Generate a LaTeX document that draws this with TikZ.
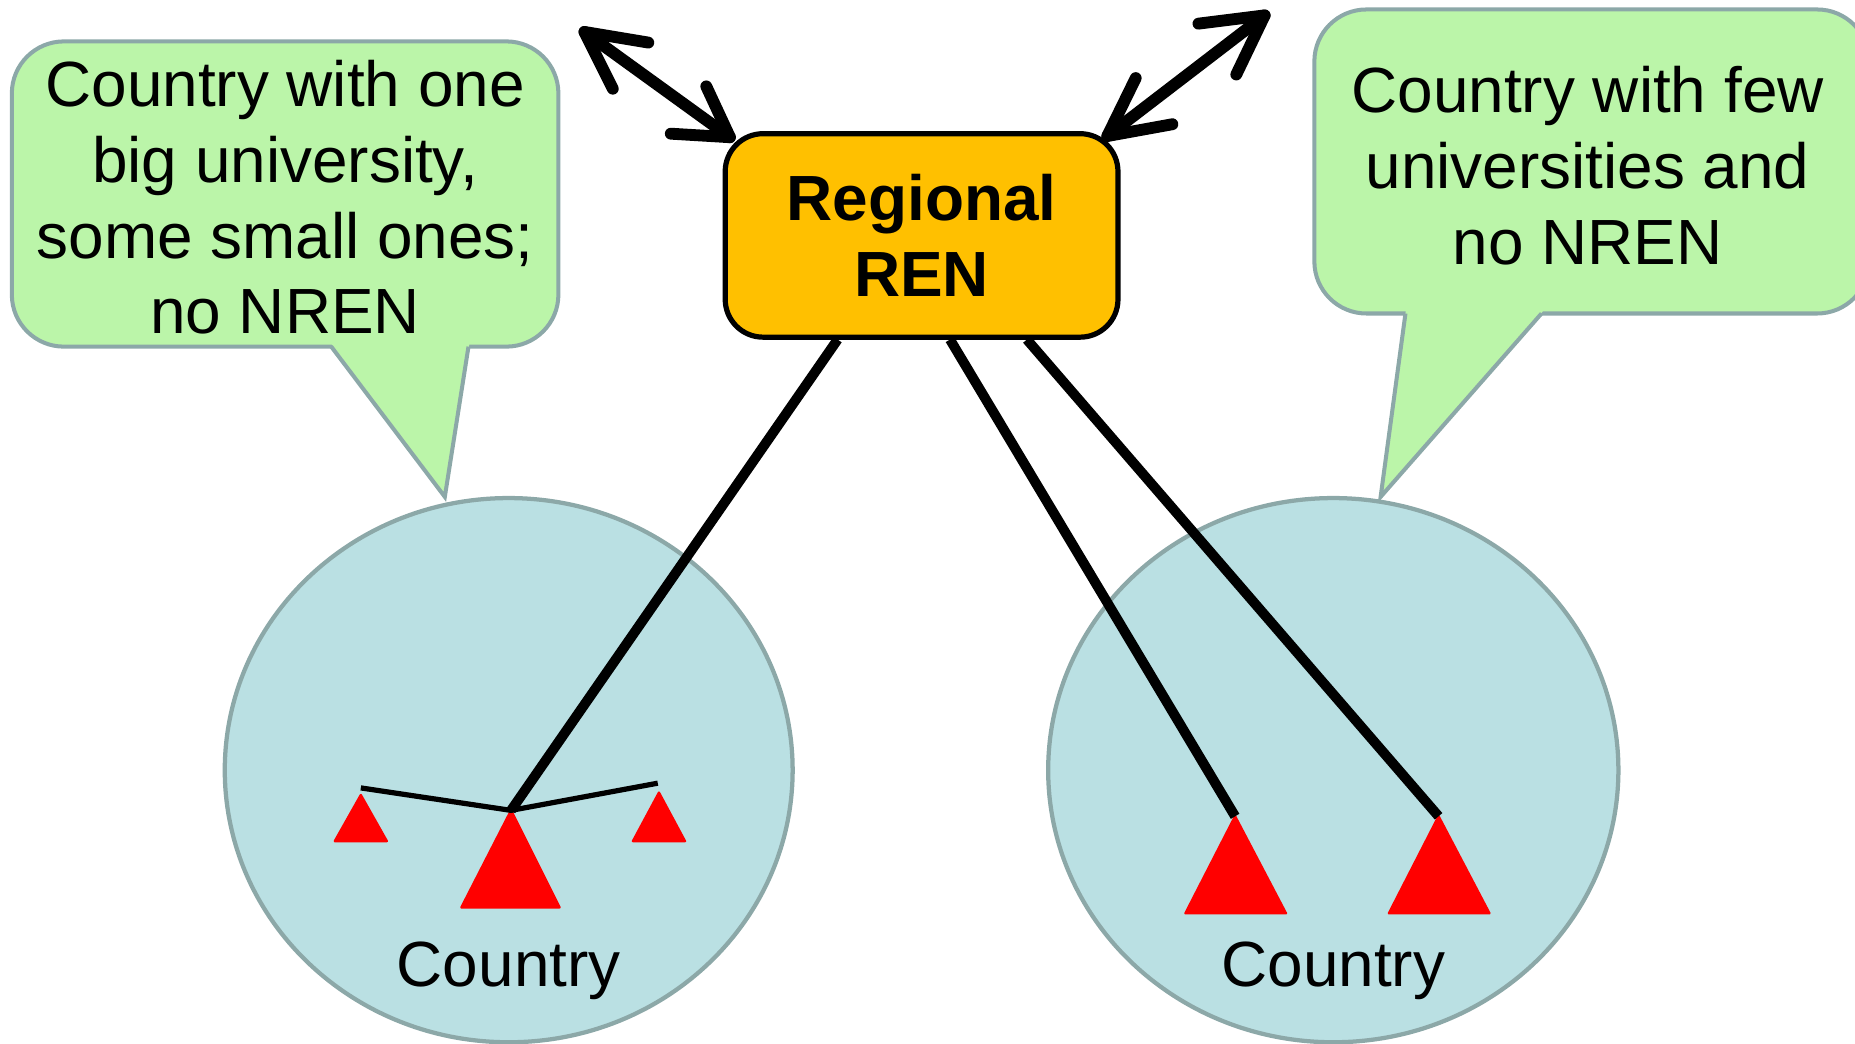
\documentclass[tikz,border=0pt]{standalone}
\usepackage{fontspec}
\setmainfont{Liberation Sans}
\usetikzlibrary{calc}
\definecolor{callgreen}{HTML}{BBF5A9}
\definecolor{countryblue}{HTML}{BAE0E3}
\definecolor{grayedge}{HTML}{8CA8A8}
\definecolor{renorange}{HTML}{FFC000}
\begin{document}
\begin{tikzpicture}[x=0.5pt,y=-0.5pt,
  callout/.style={fill=callgreen,draw=grayedge,line width=1.7pt,rounded corners=22pt},
  pointer/.style={draw=grayedge,line width=1.7pt,line join=miter},
  countrysh/.style={fill=countryblue,draw=grayedge,line width=1.8pt},
  lbl/.style={font=\fontsize{27}{32}\selectfont,align=center},
  link/.style={line width=4.2pt},
  thinlink/.style={line width=2.2pt},
  uni/.style={fill=red,draw=red,line width=1pt,line join=round},
  dbl/.style={line width=5pt,line cap=round,line join=round}
]
\useasboundingbox (0,0) rectangle (1568,882);
% country ellipses
\draw[countrysh] (430,651) ellipse [x radius=240,y radius=230];
\draw[countrysh] (1127,651) ellipse [x radius=241,y radius=230];
\node[lbl] (c1) at (430,821) {Country};
\node[lbl] (c2) at (1127,821) {Country};
% left callout
\draw[callout] (10,35) rectangle (472,293);
\fill[callgreen] (279,289) -- (376,420) -- (397,289) -- cycle;
\draw[pointer] (280,293) -- (376,420) -- (396,293);
\node[lbl] (t1) at (241,167) {Country with one\\big university,\\some small ones;\\no NREN};
% right callout
\draw[callout] (1111,8) rectangle (1580,265);
\fill[callgreen] (1188.5,261) -- (1167,420) -- (1306,261) -- cycle;
\draw[pointer] (1188,265) -- (1167,420) -- (1303,265);
\node[lbl] (t2) at (1342,140) {Country with few\\universities and\\no NREN};
% regional REN
\node[draw=black,fill=renorange,line width=2.2pt,rounded corners=16pt,minimum width=166pt,minimum height=86pt,
  font=\fontsize{27}{32}\selectfont\bfseries,align=center] (ren) at (779,199) {Regional\\REN};
% universities
\coordinate (a1) at (432,685);
\coordinate (s1) at (305,672);
\coordinate (s2) at (557,670);
\coordinate (a2) at (1044,690);
\coordinate (a3) at (1216,690);
\draw[uni] (a1) -- (390,767) -- (473,767) -- cycle;
\draw[uni] (s1) -- (283,711) -- (327,711) -- cycle;
\draw[uni] (s2) -- (535,711) -- (579,711) -- cycle;
\draw[uni] (a2) -- (1002,772) -- (1087,772) -- cycle;
\draw[uni] (a3) -- (1174,772) -- (1259,772) -- cycle;
% links
\coordinate (r1) at (708,287);
\coordinate (r2) at (803,287);
\coordinate (r3) at (868,287);
\draw[link] (r1) -- (a1);
\draw[link] (r2) -- (a2);
\draw[link] (r3) -- (a3);
\coordinate (e1) at (305,666);
\coordinate (e2) at (556,662);
\draw[thinlink] (e1) -- (a1) -- (e2);
% double arrows
\coordinate (ul) at (494,27);
\coordinate (bl) at (617,116);
\coordinate (ur) at (1069,13);
\coordinate (br) at (936,115);
\draw[dbl] (ul) -- (bl);
\draw[dbl] (548,36) -- (ul) -- (518,75);
\draw[dbl] (597,73) -- (bl) -- (567,113);
\draw[dbl] (ur) -- (br);
\draw[dbl] (1013,20) -- (ur) -- (1045,63);
\draw[dbl] (960,66) -- (br) -- (991,105);
\end{tikzpicture}
\end{document}
